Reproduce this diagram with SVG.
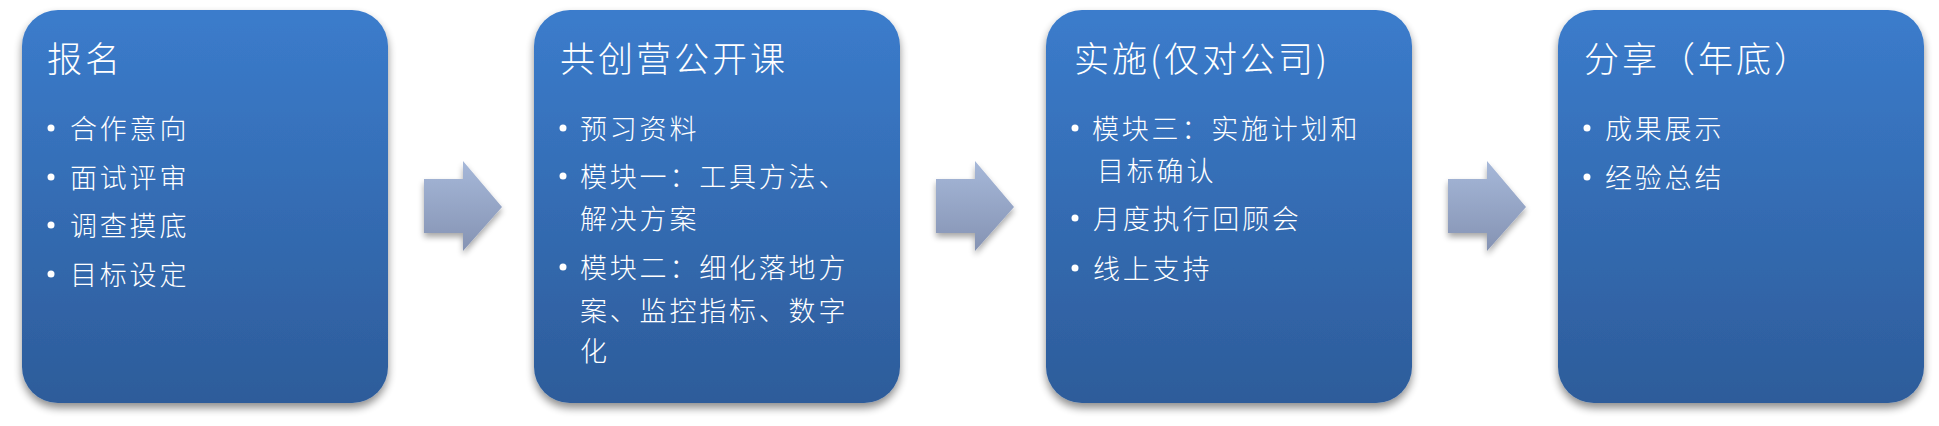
<svg xmlns="http://www.w3.org/2000/svg" width="1939" height="426" viewBox="0 0 1939 426">
<style>
  .title { font-family: "Noto Sans CJK SC", "Liberation Serif", sans-serif; font-size: 35px; font-weight: 300; fill: #ffffff; letter-spacing: 3px; }
  .item { font-family: "Noto Sans CJK SC", "Liberation Serif", sans-serif; font-size: 27px; font-weight: 300; fill: #ffffff; letter-spacing: 2.8px; }
  .dot { fill: #ffffff; }
  .box { fill: url(#boxGrad); filter: url(#shadow); }
  .arrow { fill: url(#arrowGrad); filter: url(#ashadow); }
</style>
<defs>
  <linearGradient id="boxGrad" x1="0" y1="0" x2="0" y2="1">
    <stop offset="0" stop-color="#3b7ccc"/>
    <stop offset="1" stop-color="#2d5c9a"/>
  </linearGradient>
  <linearGradient id="arrowGrad" x1="0" y1="0" x2="0" y2="1">
    <stop offset="0" stop-color="#a6b8d9"/>
    <stop offset="1" stop-color="#8593b3"/>
  </linearGradient>
  <filter id="shadow" x="-10%" y="-10%" width="120%" height="125%">
    <feGaussianBlur in="SourceAlpha" stdDeviation="4"/>
    <feOffset dx="0" dy="5" result="b"/>
    <feComponentTransfer><feFuncA type="linear" slope="0.45"/></feComponentTransfer>
    <feMerge><feMergeNode/><feMergeNode in="SourceGraphic"/></feMerge>
  </filter>
  <filter id="ashadow" x="-20%" y="-20%" width="140%" height="150%">
    <feGaussianBlur in="SourceAlpha" stdDeviation="3"/>
    <feOffset dx="0" dy="4" result="b"/>
    <feComponentTransfer><feFuncA type="linear" slope="0.35"/></feComponentTransfer>
    <feMerge><feMergeNode/><feMergeNode in="SourceGraphic"/></feMerge>
  </filter>
</defs>

<g id="connectors">
  <path class="arrow" d="M424,179 H463 V161 L502,207 L463,251 V233 H424 Z"/>
  <path class="arrow" d="M936,179 H975 V161 L1014,207 L975,251 V233 H936 Z"/>
  <path class="arrow" d="M1448,179 H1487 V161 L1526,207 L1487,251 V233 H1448 Z"/>
</g>

<g id="node1">
  <rect class="box" x="22" y="10" width="366" height="393" rx="36" ry="36"/>
  <text class="title" x="47" y="72">报名</text>
  <circle class="dot" cx="51" cy="128" r="3.5"/>
  <text class="item" x="70" y="139">合作意向</text>
  <circle class="dot" cx="51" cy="177" r="3.5"/>
  <text class="item" x="70" y="188">面试评审</text>
  <circle class="dot" cx="51" cy="225" r="3.5"/>
  <text class="item" x="70" y="236">调查摸底</text>
  <circle class="dot" cx="51" cy="274" r="3.5"/>
  <text class="item" x="70" y="285">目标设定</text>
</g>

<g id="node2">
  <rect class="box" x="534" y="10" width="366" height="393" rx="36" ry="36"/>
  <text class="title" x="560" y="72">共创营公开课</text>
  <circle class="dot" cx="563" cy="128" r="3.5"/>
  <text class="item" x="580" y="139">预习资料</text>
  <circle class="dot" cx="563" cy="176" r="3.5"/>
  <text class="item" x="580" y="187">模块一：工具方法、</text>
  <text class="item" x="580" y="229">解决方案</text>
  <circle class="dot" cx="563" cy="267" r="3.5"/>
  <text class="item" x="580" y="278">模块二：细化落地方</text>
  <text class="item" x="580" y="321">案、监控指标、数字</text>
  <text class="item" x="580" y="361">化</text>
</g>

<g id="node3">
  <rect class="box" x="1046" y="10" width="366" height="393" rx="36" ry="36"/>
  <text class="title" x="1074" y="72">实施(仅对公司)</text>
  <circle class="dot" cx="1075" cy="128" r="3.5"/>
  <text class="item" x="1092" y="139">模块三：实施计划和</text>
  <text class="item" x="1097" y="181">目标确认</text>
  <circle class="dot" cx="1075" cy="218" r="3.5"/>
  <text class="item" x="1093" y="229">月度执行回顾会</text>
  <circle class="dot" cx="1075" cy="268" r="3.5"/>
  <text class="item" x="1093" y="279">线上支持</text>
</g>

<g id="node4">
  <rect class="box" x="1558" y="10" width="366" height="393" rx="36" ry="36"/>
  <text class="title" x="1584" y="72">分享（年底）</text>
  <circle class="dot" cx="1587" cy="128" r="3.5"/>
  <text class="item" x="1605" y="139">成果展示</text>
  <circle class="dot" cx="1587" cy="177" r="3.5"/>
  <text class="item" x="1605" y="188">经验总结</text>
</g>
</svg>
